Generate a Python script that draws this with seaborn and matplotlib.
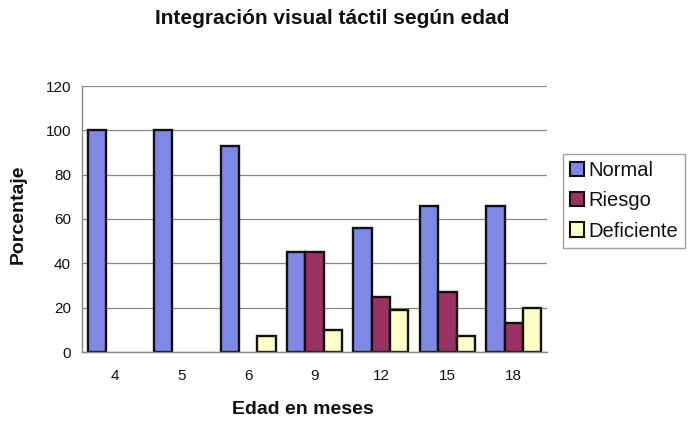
import pandas as pd
import matplotlib.pyplot as plt
from matplotlib.patches import Patch
import seaborn as sns

edades = ['4', '5', '6', '9', '12', '15', '18']
normal = [100, 100, 93, 45, 56, 66, 66]
riesgo = [0, 0, 0, 45, 25, 27, 13]
deficiente = [0, 0, 7, 10, 19, 7, 20]
grupos = ['Normal', 'Riesgo', 'Deficiente']
colores = {'Normal': '#7f88e4', 'Riesgo': '#993262', 'Deficiente': '#ffffc8'}

df = pd.DataFrame({
    'edad': edades * 3,
    'pct': normal + riesgo + deficiente,
    'grupo': [g for g in grupos for _ in edades],
})

sns.set_style('white')
plt.rcParams['font.family'] = ['Liberation Sans', 'DejaVu Sans']
plt.rcParams['text.color'] = '#111111'
plt.rcParams['axes.labelcolor'] = '#111111'

fig = plt.figure(figsize=(6.89, 4.22), dpi=100)
ax = fig.add_axes([82 / 689, 1 - 352 / 422, 465 / 689, 266 / 422])

sns.barplot(data=df, x='edad', y='pct', hue='grupo', order=edades,
            hue_order=grupos, palette=colores, width=0.83, saturation=1,
            edgecolor='#111111', linewidth=1.7, legend=False, ax=ax)

# Excel no dibuja las barras de valor cero
for p in ax.patches:
    if p.get_height() == 0:
        p.set_visible(False)

ax.set_ylim(0, 120)
ax.set_xlim(-0.5, len(edades) - 0.5)
ax.set_yticks(range(0, 121, 20))
ax.yaxis.grid(True, color='#888888', linewidth=0.9)
ax.set_axisbelow(True)
for s in ['top', 'right']:
    ax.spines[s].set_visible(False)
for s in ['left', 'bottom']:
    ax.spines[s].set_color('#888888')
    ax.spines[s].set_linewidth(1)

ax.set_xticks([i + 0.5 for i in range(-1, len(edades))], minor=True)
ax.tick_params(axis='x', which='major', length=0, labelsize=11, pad=12,
               labelcolor='#111111')
ax.tick_params(axis='x', which='minor', length=4, color='#888888', direction='out')
ax.tick_params(axis='y', length=4, color='#888888', direction='out', labelsize=11,
               pad=4, labelcolor='#111111')

ax.set_xlabel('Edad en meses', fontsize=14, fontweight='bold')
ax.set_ylabel('Porcentaje', fontsize=14, fontweight='bold')
ax.xaxis.set_label_coords((303 - 82) / 465, -(410 - 352) / 266, transform=ax.transAxes)
ax.xaxis.label.set_va('center')
ax.yaxis.set_label_coords(-(82 - 18) / 465, (352 - 214) / 266, transform=ax.transAxes)
ax.yaxis.label.set_va('center')
fig.text(332 / 689, 1 - 19 / 422, 'Integración visual táctil según edad',
         fontsize=15, fontweight='bold', ha='center', va='center')

handles = [Patch(facecolor=colores[g], edgecolor='#111111', linewidth=1.5)
           for g in grupos]
leg = fig.legend(handles, grupos, loc='center left',
                 bbox_to_anchor=(563 / 689, 1 - 201 / 422), fontsize=14.5,
                 frameon=True, fancybox=False, edgecolor='#888888',
                 handlelength=0.7, handleheight=0.7, handletextpad=0.2,
                 labelspacing=0.55, borderpad=0.35, borderaxespad=0)
leg.get_frame().set_linewidth(1)

fig.savefig('out.png', dpi=100)
